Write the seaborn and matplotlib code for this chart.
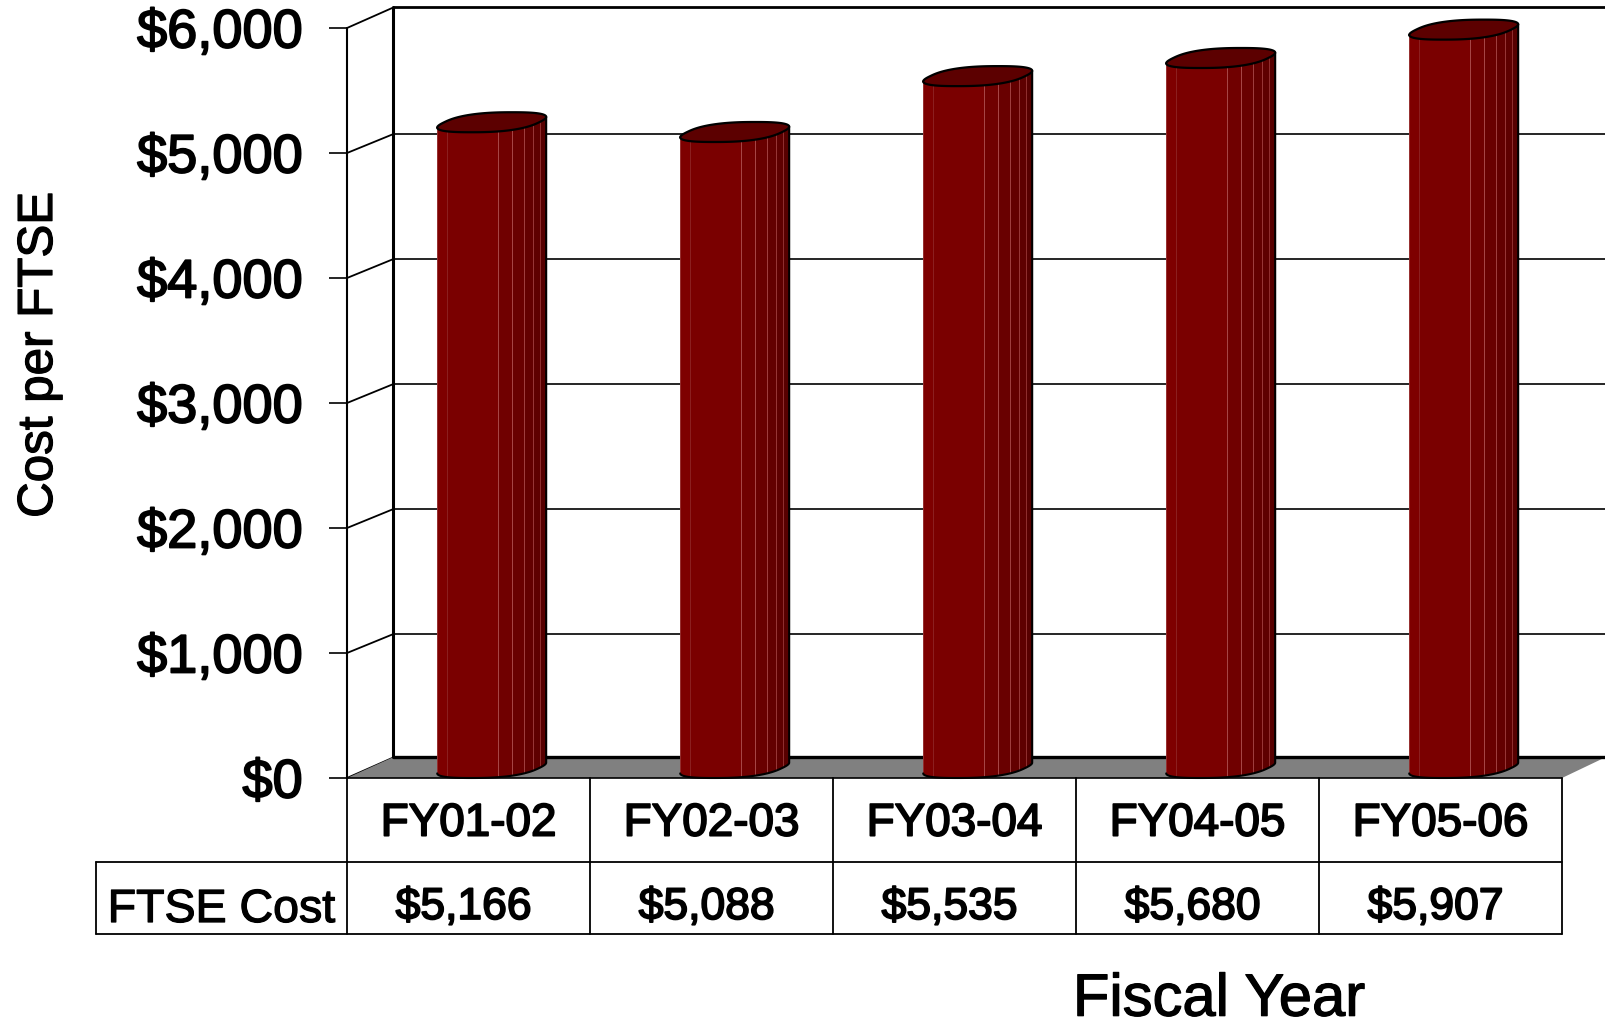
import numpy as np
import matplotlib
matplotlib.use("Agg")
import matplotlib.pyplot as plt
import matplotlib.patheffects as pe
from matplotlib.patches import Polygon, Rectangle
import seaborn as sns
import pandas as pd

categories = ["FY01-02", "FY02-03", "FY03-04", "FY04-05", "FY05-06"]
values = [5166, 5088, 5535, 5680, 5907]
value_labels = ["$5,166", "$5,088", "$5,535", "$5,680", "$5,907"]
y_ticks = [0, 1000, 2000, 3000, 4000, 5000, 6000]
y_tick_labels = ["$0", "$1,000", "$2,000", "$3,000", "$4,000", "$5,000", "$6,000"]
row_title = "FTSE Cost"
x_title = "Fiscal Year"
y_title = "Cost per FTSE"

W, H = 1606, 1020
sns.set_theme(style="white")
plt.rcParams["font.family"] = ["Liberation Sans", "DejaVu Sans"]
heavy = [pe.withStroke(linewidth=1.3, foreground="black")]
semi = [pe.withStroke(linewidth=0.9, foreground="black")]

fig = plt.figure(figsize=(W / 100, H / 100), dpi=100, facecolor="white")
L, R, T, B = 347, 1562, 29, 779
ax = fig.add_axes([L / W, 1 - B / H, (R - L) / W, (B - T) / H])
df = pd.DataFrame({"year": categories, "cost": values})
sns.barplot(data=df, x="year", y="cost", color="#7A0000", width=0.449, ax=ax,
            saturation=1, errorbar=None, zorder=5)
ax.set_xlim(-0.5, 4.5)
ax.set_ylim(0, 6000)

px_x = 1 / ((R - L) / 5)      # category units per pixel
px_y = 6000 / (B - T)         # cost units per pixel
depth_x = 46.5 * px_x
depth_y = 19.0 * px_y
edge_r = (W - L) * px_x - 0.5
back_x = -0.5 + depth_x

# walls, floor and gridlines
for v in y_ticks[1:-1]:
    ax.plot([back_x, edge_r], [v + depth_y] * 2, color="black", lw=1.2,
            clip_on=False, zorder=1, solid_capstyle="butt")
ax.plot([back_x, edge_r], [6000 + 20.6 * px_y] * 2, color="black", lw=2.0,
        clip_on=False, zorder=1, solid_capstyle="butt")
for v in y_ticks:
    ax.plot([-0.5, back_x], [v, v + depth_y + (1.6 * px_y if v in (0, 6000) else 0)],
            color="black", lw=1.3, clip_on=False, zorder=1)
ax.add_patch(Polygon([(-0.5, 0), (back_x, 21 * px_y), (edge_r, 21 * px_y), (4.5, 0)],
                     closed=True, facecolor="#808080", edgecolor="none", clip_on=False, zorder=2))
ax.plot([back_x, edge_r], [21.5 * px_y] * 2, color="black", lw=2.4,
        clip_on=False, zorder=3, solid_capstyle="butt")
ax.plot([-0.5, -0.5], [0, 6000], color="black", lw=1.5, clip_on=False, zorder=3)
ax.plot([back_x] * 2, [21 * px_y, 6000 + 21 * px_y], color="black", lw=2.2,
        clip_on=False, zorder=3)
ax.plot([-0.5, 4.5], [0, 0], color="black", lw=1.2, clip_on=False, zorder=4)

# cylinders, built on the geometry of the seaborn bars
fractions = [0, .09, .56, .69, .80, .88, .945, 1]
shades = ["#7E0000", "#7A0000", "#700000", "#690000", "#630000", "#5E0000", "#570000"]
line_cols = ["#8C2020", "#A84848", "#A84848", "#A04040", "#983838", "#903030"]
n = 240
t = np.linspace(0, 2 * np.pi, n, endpoint=False)
p_exp = 0.78
C = np.sign(np.cos(t)) * np.abs(np.cos(t)) ** p_exp
S = np.sign(np.sin(t)) * np.abs(np.sin(t)) ** p_exp
for i, (p, v) in enumerate(zip(ax.patches, values)):
    cx = p.get_x() + p.get_width() / 2 + 23.2 * px_x
    a = 47.5 * px_x
    b = 20.5 * px_x
    c = 80
    ex = a * C + b * S
    ey = c * S
    i_min, i_max = int(np.argmin(ex)), int(np.argmax(ex))
    if i_max < i_min:
        i_max += n
    idx = np.arange(i_min, i_max + 1) % n
    lx = cx + ex[idx]
    ly = c + ey[idx]
    sil = np.column_stack([
        np.r_[lx, lx[-1], lx[0]],
        np.r_[ly, v + ly[-1], v + ly[0]],
    ])
    clip = Polygon(sil, closed=True, transform=ax.transData)
    left = lx.min()
    span = lx.max() - left
    p.set_x(left)
    p.set_width(span)
    p.set_height(v + 2 * c)
    p.set_clip_path(clip)
    p.set_clip_box(fig.bbox)
    for f0, f1, col in zip(fractions[:-1], fractions[1:], shades):
        r = Rectangle((left + f0 * span, 0), (f1 - f0) * span, v + 2 * c, facecolor=col,
                      edgecolor="none", zorder=6)
        ax.add_patch(r)
        r.set_clip_path(clip)
        r.set_clip_box(fig.bbox)
    for f, lc in zip(fractions[1:-1], line_cols):
        ln, = ax.plot([left + f * span] * 2, [0, v + 2 * c], color=lc, lw=0.7, zorder=7)
        ln.set_clip_path(clip)
        ln.set_clip_box(fig.bbox)
    ax.plot(sil[:, 0], sil[:, 1], color="black", lw=1.5, zorder=8, clip_on=False)
    ax.add_patch(Polygon(np.column_stack([cx + ex, v + c + ey]), closed=True, facecolor="#5C0000",
                         edgecolor="black", lw=1.6, zorder=9, clip_on=False))

# data table below the chart
row1, row2 = -672, -1248
left_cell = -1.532
for y in (row1, row2):
    ax.plot([left_cell, 4.5], [y, y], color="black", lw=1.3, clip_on=False)
for x in np.arange(-0.5, 5):
    ax.plot([x, x], [0, row2], color="black", lw=1.3, clip_on=False)
ax.plot([left_cell] * 2, [row1, row2], color="black", lw=1.3, clip_on=False)
for i, (c_, vl) in enumerate(zip(categories, value_labels)):
    ax.text(i, -461, c_, ha="center", va="baseline", fontsize=33, color="black",
            path_effects=heavy, clip_on=False)
    ax.text(i - 0.02, -1128, vl, ha="center", va="baseline", fontsize=32, color="black",
            path_effects=heavy, clip_on=False)
ax.text(left_cell + 0.515, -1152, row_title, ha="center", va="baseline", fontsize=33.5,
        color="black", path_effects=semi, clip_on=False)

# axes furniture
sns.despine(ax=ax, left=True, bottom=True, top=True, right=True)
ax.set_yticks(y_ticks)
ax.set_yticklabels(y_tick_labels, fontsize=39, color="black", path_effects=heavy)
ax.tick_params(axis="y", left=True, length=13, width=1.2, color="black", pad=19, labelcolor="black")
ax.tick_params(axis="x", bottom=False, labelbottom=False)
ax.set_xticks([])
ax.set_xlabel(x_title, fontsize=43, color="black", path_effects=semi)
ax.xaxis.set_label_coords((1219 - L) / (R - L), (B - 1016.7) / (B - T), transform=ax.transAxes)
ax.xaxis.label.set_va("baseline")
ax.set_ylabel(y_title, fontsize=35.5, color="black", path_effects=semi)
ax.yaxis.label.set_rotation_mode("default")
ax.yaxis.label.set_ha("right")
ax.yaxis.label.set_va("center")
ax.yaxis.set_label_coords((62 - L) / (R - L), (B - 356) / (B - T), transform=ax.transAxes)
ax.patch.set_visible(False)

fig.savefig("out.png", dpi=100, facecolor="white")
